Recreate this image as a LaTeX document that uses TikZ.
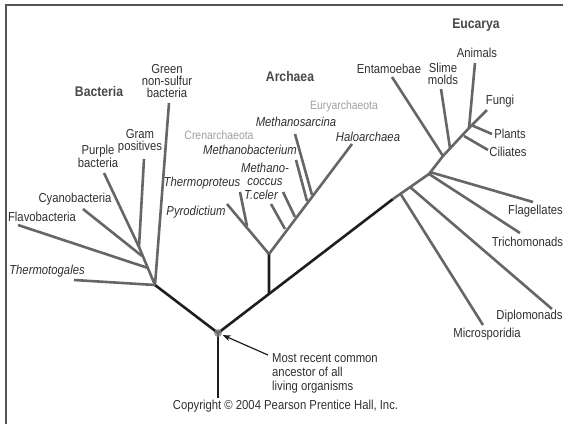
\documentclass[tikz,border=0pt]{standalone}
\usepackage{fontspec}
\setmainfont[FakeStretch=0.87]{Liberation Sans}
\usetikzlibrary{arrows.meta,calc}
\definecolor{trunk}{HTML}{1E1E1E}
\definecolor{branch}{HTML}{666666}
\definecolor{txt}{HTML}{303030}
\definecolor{ttl}{HTML}{484848}
\definecolor{faint}{HTML}{A0A0A0}
\definecolor{framecol}{HTML}{555555}
\begin{document}
\begin{tikzpicture}[x=1pt,y=-1pt,
  trunkline/.style={draw=trunk,line width=2.6pt},
  branchline/.style={draw=branch,line width=2.6pt},
  lbl/.style={text=txt,inner sep=0pt,align=center,font=\fontsize{13}{11}\selectfont},
  ilbl/.style={text=txt,inner sep=0pt,align=center,font=\fontsize{13}{11}\selectfont\itshape},
  ttlbl/.style={text=ttl,inner sep=0pt,font=\fontsize{14}{14}\selectfont\bfseries},
  sublbl/.style={text=faint,inner sep=0pt,font=\fontsize{12}{12}\selectfont},
]
\useasboundingbox (0,0) rectangle (563,424);
\draw[draw=framecol,line width=1.5pt] (6,424) -- (6,5) -- (563,5);

% ---------- junction coordinates ----------
\coordinate (rootc) at (218,333);
\coordinate (rootbot) at (218,398);
\coordinate (jB) at (155,285);
\coordinate (jBs) at (139,247);
\coordinate (jBf) at (148,268);
\coordinate (jBc) at (142,256);
\coordinate (jE) at (393,199);
\coordinate (jA) at ($(rootc)!0.2914!(jE)$);
\coordinate (jAt) at (269,254);
\coordinate (jC) at (247,226);
\coordinate (jE1) at (400,193);
\coordinate (jE2) at (410,187);
\coordinate (jE3) at (429,174);
\coordinate (jE4) at (443,156);
\coordinate (jE5) at (450,148);
\coordinate (jE6) at (464,136);
\coordinate (jE7) at (469,128);

% ---------- branch ends ----------
\coordinate (eFlavo) at (18,225);
\coordinate (eCyano) at (83,209);
\coordinate (ePurple) at (104,173);
\coordinate (eGram) at (144,159);
\coordinate (eGreen) at (169,103);
\coordinate (eThermo) at (74,280);
\coordinate (ePyro) at (227,204);
\coordinate (eTprot) at (240,192);
\coordinate (eHalo) at (352,144);
\coordinate (eTceler) at (271,204);
\coordinate (aTceler) at (285,229);
\coordinate (eMcoc) at (283,192);
\coordinate (aMcoc) at (295,217);
\coordinate (eMbac) at (296,160);
\coordinate (aMbac) at (307,201);
\coordinate (eMsar) at (295,134);
\coordinate (aMsar) at (312,195);
\coordinate (eEnt) at (392,77);
\coordinate (eSlime) at (441,89);
\coordinate (eAnim) at (475,63);
\coordinate (eFungi) at (487,110);
\coordinate (ePlants) at (492,134);
\coordinate (eCil) at (488,150);
\coordinate (eFlag) at (533,202);
\coordinate (eTrich) at (520,233);
\coordinate (eDiplo) at (552,309);
\coordinate (eMicro) at (483,325);

% ---------- trunk (black) ----------
\draw[trunkline] (rootbot) -- (rootc);
\draw[trunkline] (rootc) -- (jB);
\draw[trunkline] (rootc) -- (jE);
\draw[trunkline] (jA) -- (jAt);

% ---------- Bacteria ----------
\draw[branchline] (jB) -- (jBs);
\draw[branchline] (jB) -- (eGreen);
\draw[branchline] (jB) -- (eThermo);
\draw[branchline] (jBf) -- (eFlavo);
\draw[branchline] (jBc) -- (eCyano);
\draw[branchline] (jBs) -- (ePurple);
\draw[branchline] (jBs) -- (eGram);

% ---------- Archaea ----------
\draw[branchline] (jAt) -- (ePyro);
\draw[branchline] (jC) -- (eTprot);
\draw[branchline] (jAt) -- (eHalo);
\draw[branchline] (aTceler) -- (eTceler);
\draw[branchline] (aMcoc) -- (eMcoc);
\draw[branchline] (aMbac) -- (eMbac);
\draw[branchline] (aMsar) -- (eMsar);

% ---------- Eucarya ----------
\draw[branchline] (jE) -- (jE3) -- (jE4) -- (jE7) -- (eFungi);
\draw[branchline] (jE1) -- (eMicro);
\draw[branchline] (jE2) -- (eDiplo);
\draw[branchline] (jE3) -- (eTrich);
\draw[branchline] ($(jE3)!0.1!(jE4)$) -- (eFlag);
\draw[branchline] (jE4) -- (eEnt);
\draw[branchline] (jE5) -- (eSlime);
\draw[branchline] (jE6) -- (eCil);
\draw[branchline] (jE7) -- (eAnim);
\draw[branchline] ($(jE7)!0.15!(eFungi)$) -- (ePlants);

% ---------- root dot ----------
\node[circle,fill=gray,opacity=0.75,minimum size=8pt,inner sep=0pt] (root) at (rootc) {};

% ---------- labels ----------
\node[ttlbl] (tBac) at (99,91) {Bacteria};
\node[ttlbl] (tArc) at (290,76) {Archaea};
\node[ttlbl] (tEuc) at (476,25) {Eucarya};

\node[lbl,font=\fontsize{13}{12}\selectfont] (lGreen) at (167,81) {Green\\non-sulfur\\bacteria};
\node[lbl,font=\fontsize{13}{12}\selectfont] (lGram) at (140,141.5) {Gram\\positives};
\node[lbl,font=\fontsize{13}{12}\selectfont] (lPurple) at (98,156.5) {Purple\\bacteria};
\node[lbl] (lCyano) at (75,199) {Cyanobacteria};
\node[lbl] (lFlavo) at (42,217) {Flavobacteria};
\node[ilbl] (lThermo) at (47,271) {Thermotogales};

\node[sublbl] (lEury) at (344,106) {Euryarchaeota};
\node[sublbl] (lCren) at (219,135) {Crenarchaeota};
\node[ilbl] (lMsar) at (296,122) {Methanosarcina};
\node[ilbl] (lHalo) at (368,137) {Haloarchaea};
\node[ilbl] (lMbac) at (250,150) {Methanobacterium};
\node[ilbl,font=\fontsize{13}{13}\selectfont\itshape] (lMcoc) at (265,174.5) {Methano-\\coccus};
\node[ilbl] (lTceler) at (261,195) {T.celer};
\node[ilbl] (lTprot) at (202,183) {Thermoproteus};
\node[ilbl] (lPyro) at (196,212) {Pyrodictium};

\node[lbl] (lAnim) at (477,53) {Animals};
\node[lbl,font=\fontsize{13}{12}\selectfont] (lSlime) at (443,74) {Slime\\molds};
\node[lbl] (lEnt) at (389,69) {Entamoebae};
\node[lbl] (lFungi) at (500,101) {Fungi};
\node[lbl] (lPlants) at (510,134) {Plants};
\node[lbl] (lCil) at (508,152) {Ciliates};
\node[lbl] (lFlag) at (535.5,211) {Flagellates};
\node[lbl] (lTrich) at (527.5,242) {Trichomonads};
\node[lbl] (lDiplo) at (529.5,316) {Diplomonads};
\node[lbl] (lMicro) at (487,334) {Microsporidia};

\node[lbl,align=left,anchor=north west,font=\fontsize{13}{14}\selectfont] (note) at (272,353)
  {Most recent common\\ancestor of all\\living organisms};
\coordinate (arrowstart) at (268,355);
\draw[draw=trunk,line width=1.2pt,-{Stealth[length=8pt,width=6pt]},shorten >=1pt] (arrowstart) -- (root);

\node[lbl] (copy) at (285.5,406) {Copyright © 2004 Pearson Prentice Hall, Inc.};
\end{tikzpicture}
\end{document}
